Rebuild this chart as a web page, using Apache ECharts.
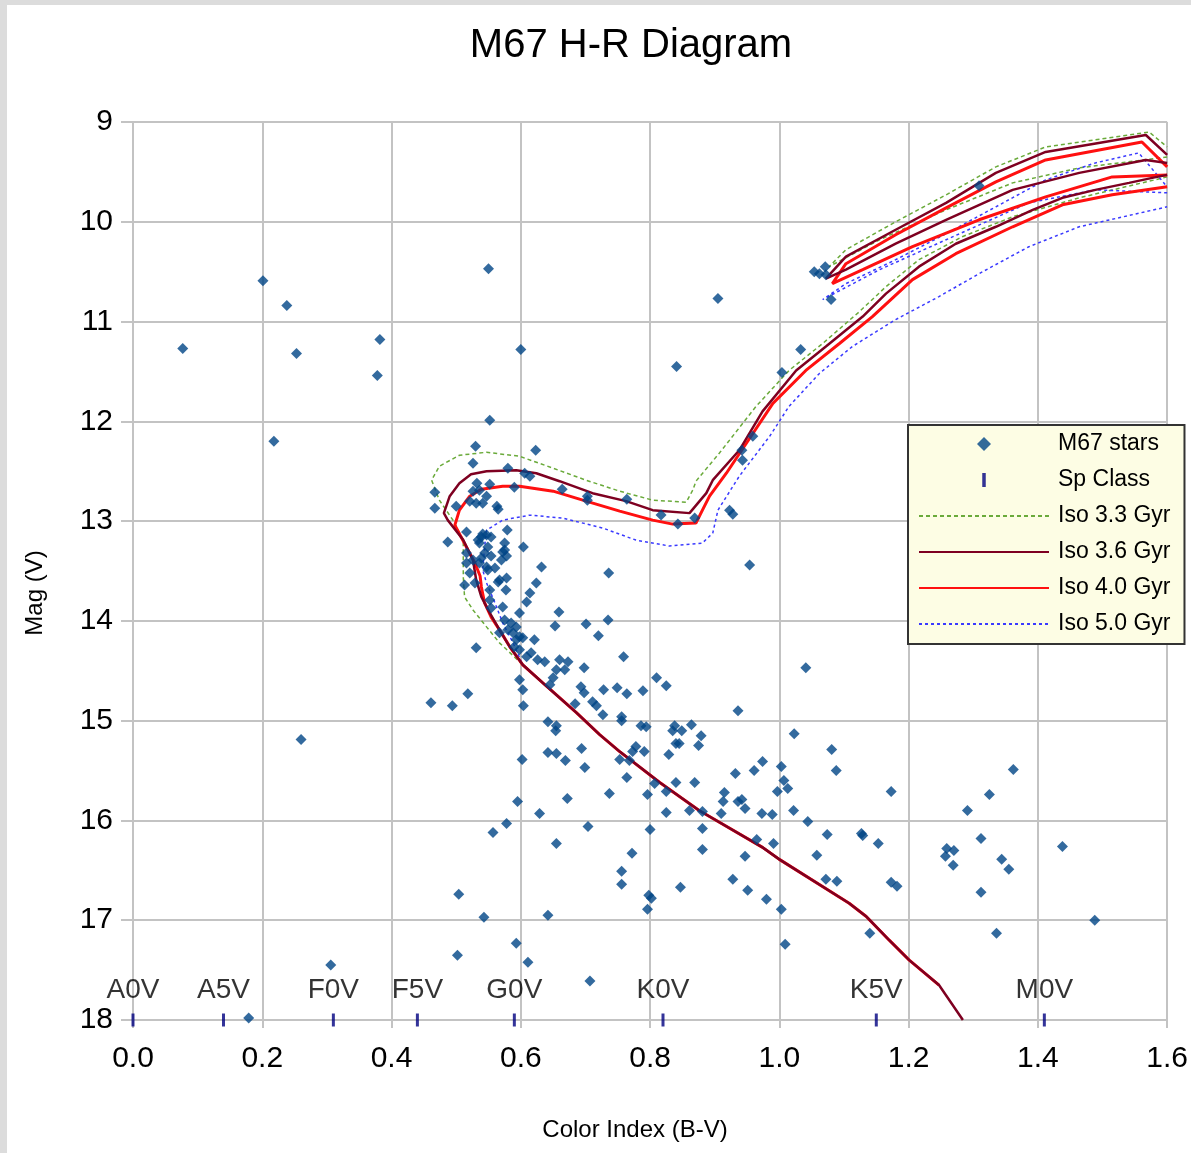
<!DOCTYPE html>
<html><head><meta charset="utf-8">
<script src="https://cdn.jsdelivr.net/npm/echarts@6/dist/echarts.min.js"></script>
<style>
html,body{margin:0;padding:0;background:#dcdcdc;width:1191px;height:1153px;overflow:hidden}
#chart{position:absolute;left:7px;top:5px;width:1184px;height:1148px;background:#fff}
</style></head><body><div id="chart"></div>
<script>
const FONT = "'Liberation Sans',Arial,sans-serif";

// M67 stars: [B-V, V]
const stars = [
[0.201,10.59],[0.238,10.84],[0.077,11.27],[0.253,11.32],[0.382,11.18],[0.378,11.54],[0.218,12.20],
[0.550,10.47],[0.600,11.28],[0.552,11.99],[0.260,15.19],
[0.467,12.71],[0.467,12.87],[0.530,12.25],[0.623,12.29],[0.526,12.42],[0.580,12.47],[0.606,12.52],
[0.614,12.55],[0.532,12.62],[0.552,12.63],[0.526,12.70],[0.536,12.69],[0.547,12.75],[0.521,12.80],
[0.531,12.82],[0.541,12.82],[0.500,12.85],[0.563,12.85],[0.565,12.88],[0.590,12.66],[0.664,12.68],
[0.703,12.75],[0.703,12.79],[0.764,12.78],[0.817,12.94],[0.843,13.03],[0.869,12.97],[0.923,12.89],
[0.928,12.93],[0.942,12.29],[0.943,12.39],[0.959,12.15],[0.954,13.44],[0.487,13.21],[0.516,13.11],
[0.539,13.16],[0.547,13.14],[0.554,13.16],[0.536,13.22],[0.549,13.26],[0.575,13.22],[0.575,13.29],
[0.579,13.09],[0.604,13.26],[0.544,13.32],[0.554,13.35],[0.526,13.39],[0.536,13.42],[0.547,13.46],
[0.560,13.47],[0.516,13.42],[0.521,13.52],[0.549,13.49],[0.570,13.39],[0.578,13.35],[0.632,13.46],
[0.736,13.52],[0.513,13.64],[0.529,13.62],[0.565,13.61],[0.578,13.57],[0.624,13.62],[0.577,13.69],
[0.614,13.72],[0.609,13.81],[0.552,13.79],[0.572,13.86],[0.598,13.92],[0.659,13.91],[0.653,14.05],
[0.701,14.03],[0.735,13.99],[0.720,14.15],[0.621,14.19],[0.531,14.27],[0.588,14.12],[0.593,14.19],
[0.598,14.16],[0.580,14.09],[0.534,13.19],[0.541,13.13],[0.539,13.37],[0.516,13.32],[0.572,13.31],
[0.567,13.59],[0.552,13.69],[0.554,13.87],[0.575,13.99],[0.585,14.02],[0.593,14.06],[0.567,14.12],
[0.603,14.17],[0.598,14.29],[0.609,14.36],[0.616,14.32],[0.626,14.39],[0.637,14.41],[0.590,14.26],
[0.660,14.39],[0.673,14.41],[0.655,14.49],[0.668,14.49],[0.759,14.36],[0.698,14.47],[0.650,14.57],
[0.645,14.64],[0.598,14.59],[0.603,14.69],[0.693,14.66],[0.698,14.72],[0.728,14.69],[0.749,14.67],
[0.764,14.73],[0.789,14.70],[0.810,14.57],[0.825,14.65],[0.461,14.82],[0.494,14.85],[0.518,14.73],
[0.604,14.85],[0.684,14.83],[0.711,14.81],[0.717,14.85],[0.727,14.94],[0.756,14.96],[0.756,15.00],
[0.936,14.90],[0.642,15.01],[0.655,15.05],[0.654,15.10],[0.786,15.05],[0.794,15.06],[0.838,15.05],
[0.835,15.10],[0.849,15.10],[0.864,15.04],[0.879,15.15],[0.840,15.23],[0.845,15.23],[0.875,15.25],
[0.694,15.28],[0.642,15.32],[0.655,15.33],[0.778,15.26],[0.773,15.31],[0.791,15.31],[0.829,15.34],
[0.602,15.39],[0.669,15.40],[0.753,15.39],[0.768,15.40],[0.699,15.47],[0.974,15.41],[0.961,15.50],
[0.932,15.53],[0.764,15.57],[0.807,15.63],[0.825,15.71],[0.840,15.62],[0.869,15.62],[0.915,15.72],
[0.913,15.81],[0.936,15.81],[0.942,15.79],[0.947,15.88],[0.737,15.73],[0.796,15.74],[0.595,15.81],
[0.672,15.78],[0.629,15.93],[0.825,15.92],[0.861,15.90],[0.881,15.91],[0.910,15.93],[0.973,15.93],
[0.578,16.03],[0.557,16.12],[0.704,16.06],[0.800,16.09],[0.881,16.08],[0.655,16.23],[0.965,16.19],
[1.041,14.47],[1.023,15.13],[1.081,15.29],[1.088,15.50],[1.003,15.46],[1.007,15.60],[1.013,15.68],
[0.997,15.71],[0.989,15.94],[1.022,15.90],[1.173,15.71],[1.044,16.01],[1.074,16.14],[1.127,16.13],
[1.129,16.15],[1.153,16.23],[0.772,16.33],[0.881,16.29],[0.991,16.23],[0.947,16.36],[1.058,16.35],
[0.756,16.51],[0.756,16.64],[0.847,16.67],[0.928,16.59],[0.951,16.70],[1.072,16.59],[1.089,16.61],
[1.173,16.62],[1.182,16.66],[0.798,16.75],[0.802,16.78],[0.796,16.89],[0.980,16.79],[1.003,16.89],
[0.504,16.74],[0.543,16.97],[0.642,16.95],[0.593,17.23],[1.009,17.24],[0.502,17.35],[0.306,17.45],
[0.611,17.42],[0.707,17.61],[0.179,17.98],
[1.362,15.49],[1.325,15.74],[1.291,15.90],[1.259,16.28],[1.270,16.30],[1.257,16.36],[1.269,16.45],
[1.312,16.18],[1.344,16.39],[1.355,16.49],[1.438,16.26],[1.312,16.72],[1.488,17.00],[1.140,17.13],
[1.336,17.13],
[1.309,9.64],[1.054,10.50],[1.062,10.52],[1.071,10.45],[1.072,10.53],[1.080,10.78],[0.905,10.77],
[1.033,11.28],[1.004,11.51],[0.841,11.45]
];

// Spectral class markers along the bottom
const spClassBV = [0.0, 0.14, 0.31, 0.44, 0.59, 0.82, 1.15, 1.41];
const spClassLabels = ['A0V','A5V','F0V','F5V','G0V','K0V','K5V','M0V'];
const spClassMag = 18;

// Isochrones: main sequence -> turnoff -> subgiant -> giant branch
const iso33Main = [
[1.108,16.83],[1.0,16.39],[0.974,16.27],[0.876,15.90],[0.815,15.62],[0.753,15.31],[0.722,15.14],
[0.686,14.92],[0.639,14.65],[0.603,14.44],[0.567,14.22],[0.547,14.06],[0.526,13.89],[0.513,13.76],
[0.511,13.56],[0.511,13.19],[0.495,12.99],[0.474,12.79],[0.462,12.59],[0.474,12.45],[0.505,12.34],
[0.547,12.31],[0.598,12.35],[0.650,12.47],[0.701,12.59],[0.753,12.70],[0.804,12.79],[0.856,12.81],
[0.866,12.69],[0.871,12.60],[0.907,12.32],[0.964,11.85],[1.015,11.49],[1.067,11.22],[1.124,10.90],
[1.165,10.65],[1.216,10.38],[1.283,10.15],[1.361,9.95],[1.464,9.76],[1.6,9.55]
];
const iso33Loop = [
[1.6,9.35],[1.464,9.46],[1.361,9.61],[1.258,9.88],[1.155,10.18],[1.077,10.45],[1.103,10.28],
[1.180,10.00],[1.258,9.73],[1.335,9.45],[1.412,9.25],[1.572,9.10],[1.6,9.25]
];
const iso36Main = [
[1.284,18.0],[1.247,17.65],[1.201,17.40],[1.170,17.20],[1.149,17.06],[1.134,16.96],[1.108,16.83],
[1.0,16.39],[0.974,16.27],[0.876,15.90],[0.815,15.62],[0.753,15.31],[0.722,15.14],[0.686,14.92],
[0.639,14.65],[0.603,14.44],[0.583,14.26],[0.567,14.09],[0.552,13.92],[0.539,13.76],[0.531,13.59],
[0.526,13.39],[0.511,13.19],[0.487,12.99],[0.481,12.92],[0.490,12.75],[0.505,12.62],[0.523,12.53],
[0.547,12.50],[0.593,12.49],[0.624,12.52],[0.660,12.60],[0.711,12.72],[0.763,12.80],[0.804,12.89],
[0.861,12.92],[0.887,12.72],[0.897,12.59],[0.938,12.29],[0.974,11.90],[1.026,11.49],[1.072,11.25],
[1.129,10.95],[1.165,10.72],[1.216,10.45],[1.273,10.22],[1.335,10.05],[1.392,9.88],[1.438,9.76],
[1.489,9.68],[1.541,9.61],[1.577,9.56],[1.6,9.53]
];
const iso36Loop = [
[1.6,9.41],[1.567,9.38],[1.464,9.51],[1.361,9.68],[1.258,9.98],[1.180,10.22],[1.103,10.48],
[1.072,10.57],[1.103,10.35],[1.180,10.08],[1.258,9.81],[1.335,9.51],[1.412,9.30],[1.567,9.13],[1.6,9.33]
];
const iso40Main = [
[1.247,17.65],[1.201,17.40],[1.170,17.20],[1.149,17.06],[1.134,16.96],[1.108,16.83],[1.0,16.39],
[0.974,16.27],[0.876,15.90],[0.815,15.62],[0.753,15.31],[0.722,15.14],[0.686,14.92],[0.639,14.65],
[0.603,14.44],[0.583,14.26],[0.570,14.12],[0.554,13.96],[0.544,13.82],[0.539,13.66],[0.537,13.55],
[0.529,13.42],[0.515,13.25],[0.498,13.04],[0.505,12.89],[0.521,12.75],[0.539,12.68],[0.572,12.65],
[0.598,12.65],[0.650,12.70],[0.701,12.80],[0.753,12.90],[0.804,12.99],[0.835,13.03],[0.871,13.02],
[0.881,12.89],[0.892,12.75],[0.918,12.52],[0.949,12.22],[0.990,11.82],[1.041,11.49],[1.093,11.22],
[1.144,10.95],[1.206,10.58],[1.273,10.32],[1.361,10.05],[1.438,9.83],[1.515,9.73],[1.6,9.65]
];
const iso40Loop = [
[1.6,9.53],[1.515,9.55],[1.412,9.75],[1.309,9.98],[1.206,10.25],[1.129,10.48],[1.082,10.62],
[1.103,10.42],[1.180,10.13],[1.258,9.86],[1.335,9.60],[1.412,9.38],[1.561,9.20],[1.6,9.45]
];
const iso50Main = [
[1.108,16.83],[1.0,16.39],[0.974,16.27],[0.876,15.90],[0.815,15.62],[0.753,15.31],[0.722,15.14],
[0.686,14.92],[0.639,14.65],[0.603,14.44],[0.588,14.22],[0.572,14.02],[0.560,13.82],[0.547,13.62],
[0.541,13.49],[0.544,13.26],[0.547,13.09],[0.572,12.99],[0.614,12.94],[0.665,12.97],[0.727,13.07],
[0.778,13.19],[0.830,13.25],[0.881,13.22],[0.897,13.12],[0.905,12.89],[0.938,12.55],[0.985,12.15],
[1.015,11.85],[1.062,11.52],[1.113,11.25],[1.180,10.98],[1.247,10.75],[1.309,10.52],[1.386,10.25],
[1.464,10.05],[1.6,9.85]
];
const iso50Loop = [
[1.6,9.71],[1.489,9.68],[1.386,9.81],[1.258,10.18],[1.155,10.48],[1.067,10.78],[1.103,10.62],
[1.180,10.38],[1.258,10.12],[1.335,9.85],[1.412,9.58],[1.489,9.41],[1.556,9.31],[1.6,9.65]
];

const chart = echarts.init(document.getElementById('chart'), null, {renderer: 'canvas'});
const gridColor = '#c3c3c3';
function lineSeries(name, data, color, width, type, z) {
  return {
    name, type: 'line', data, showSymbol: false, symbol: 'none', z,
    lineStyle: {color, width, type}, itemStyle: {color}, animation: false, silent: true
  };
}
const hiddenIconStyle = {opacity: 0, color: 'rgba(0,0,0,0)', borderWidth: 0};
const option = {
  animation: false,
  textStyle: {fontFamily: FONT},
  title: {
    text: 'M67 H-R Diagram', left: 619, top: 16, textAlign: 'center',
    textStyle: {fontFamily: FONT, fontSize: 40, fontWeight: 'normal', color: '#000'}
  },
  grid: {left: 126, top: 117, right: 23, bottom: 133},
  xAxis: {
    type: 'value', min: 0, max: 1.6, interval: 0.2,
    axisLine: {show: true, lineStyle: {color: gridColor, width: 2}},
    axisTick: {show: true, length: 8, lineStyle: {color: gridColor, width: 2}},
    splitLine: {show: true, lineStyle: {color: gridColor, width: 2}},
    axisLabel: {margin: 24, fontFamily: FONT, fontSize: 30, color: '#000', formatter: v => v.toFixed(1)}
  },
  yAxis: {
    type: 'value', min: 9, max: 18, interval: 1, inverse: true,
    axisLine: {show: false},
    axisTick: {show: true, length: 12, lineStyle: {color: gridColor, width: 2}},
    splitLine: {show: true, lineStyle: {color: gridColor, width: 2}},
    axisLabel: {margin: 20, fontFamily: FONT, fontSize: 30, color: '#000'}
  },
  legend: {
    orient: 'vertical', left: 901, top: 420,
    padding: [5, 14, 6, 10], itemGap: 8, itemWidth: 130, itemHeight: 14,
    backgroundColor: '#fdfde4', borderColor: '#333', borderWidth: 2, borderRadius: 0,
    textStyle: {fontFamily: FONT, fontSize: 23, lineHeight: 28, color: '#000', padding: [0, 0, 0, 4]},
    data: [
      {name: 'M67 stars', icon: 'path://M5,0 L10,5 L5,10 L0,5 Z'},
      {name: 'Sp Class', icon: 'path://M0,0 L3,0 L3,12 L0,12 Z'},
      {name: 'Iso 3.3 Gyr', itemStyle: hiddenIconStyle},
      {name: 'Iso 3.6 Gyr', itemStyle: hiddenIconStyle},
      {name: 'Iso 4.0 Gyr', itemStyle: hiddenIconStyle},
      {name: 'Iso 5.0 Gyr', itemStyle: hiddenIconStyle}
    ]
  },
  graphic: [
    {type: 'text', x: 628, y: 1125, z: 100,
     style: {text: 'Color Index (B-V)', font: '24px ' + FONT, fill: '#000', align: 'center', verticalAlign: 'middle'}},
    {type: 'text', x: 28, y: 588, rotation: Math.PI / 2, z: 100,
     style: {text: 'Mag (V)', font: '24px ' + FONT, fill: '#000', align: 'center', verticalAlign: 'middle'}}
  ],
  series: [
    lineSeries('Iso 3.3 Gyr', iso33Main, '#6aaa3a', 1.5, [4, 3], 2),
    lineSeries('Iso 3.3 Gyr', iso33Loop, '#6aaa3a', 1.5, [4, 3], 2),
    lineSeries('Iso 5.0 Gyr', iso50Main, '#3a3aff', 1.5, [3, 3], 2),
    lineSeries('Iso 5.0 Gyr', iso50Loop, '#3a3aff', 1.5, [3, 3], 2),
    lineSeries('Iso 4.0 Gyr', iso40Main, '#ff1010', 3, 'solid', 3),
    lineSeries('Iso 4.0 Gyr', iso40Loop, '#ff1010', 3, 'solid', 3),
    lineSeries('Iso 3.6 Gyr', iso36Main, '#7e0021', 2.5, 'solid', 4),
    lineSeries('Iso 3.6 Gyr', iso36Loop, '#7e0021', 2.5, 'solid', 4),
    {
      name: 'Sp Class', type: 'scatter', z: 9, clip: false,
      data: spClassBV.map(b => [b, spClassMag]),
      symbol: 'rect', symbolSize: [3, 13], itemStyle: {color: '#000080'},
      label: {show: true, position: 'top', distance: 9, fontFamily: FONT, fontSize: 28, color: '#000',
        formatter: p => spClassLabels[p.dataIndex]}
    },
    {
      name: 'M67 stars', type: 'scatter', z: 10, data: stars,
      symbol: 'diamond', symbolSize: 11, itemStyle: {color: '#004586'}
    }
  ]
};
chart.setOption(option);
</script></body></html>
